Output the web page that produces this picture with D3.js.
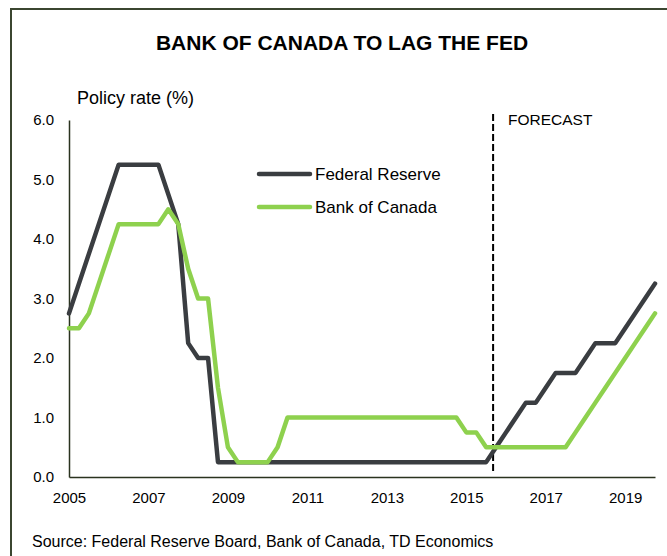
<!DOCTYPE html>
<html><head><meta charset="utf-8">
<script src="https://cdn.jsdelivr.net/npm/d3@7/dist/d3.min.js"></script>
<style>body{margin:0;background:#fff}svg{display:block;font-family:"Liberation Sans",Arial,sans-serif}</style>
</head><body><svg id="c" width="667" height="556"></svg>
<script>
// Quarterly data, 2005Q1 .. 2019Q4
const quarters = d3.range(60).map(i => (2005 + Math.floor(i/4)) + "Q" + (i%4+1));
const fedReserve = [2.75,3.25,3.75,4.25, 4.75,5.25,5.25,5.25, 5.25,5.25,4.75,4.25,
  2.25,2.0,2.0,0.25, 0.25,0.25,0.25,0.25, 0.25,0.25,0.25,0.25, 0.25,0.25,0.25,0.25,
  0.25,0.25,0.25,0.25, 0.25,0.25,0.25,0.25, 0.25,0.25,0.25,0.25, 0.25,0.25,0.25,0.5,
  0.75,1.0,1.25,1.25, 1.5,1.75,1.75,1.75, 2.0,2.25,2.25,2.25, 2.5,2.75,3.0,3.25];
const bankOfCanada = [2.5,2.5,2.75,3.25, 3.75,4.25,4.25,4.25, 4.25,4.25,4.5,4.25,
  3.5,3.0,3.0,1.5, 0.5,0.25,0.25,0.25, 0.25,0.5,1.0,1.0, 1.0,1.0,1.0,1.0,
  1.0,1.0,1.0,1.0, 1.0,1.0,1.0,1.0, 1.0,1.0,1.0,1.0, 0.75,0.75,0.5,0.5,
  0.5,0.5,0.5,0.5, 0.5,0.5,0.5,0.75, 1.0,1.25,1.5,1.75, 2.0,2.25,2.5,2.75];
const yTicks = [0,1,2,3,4,5,6];
const xTickIdx = [0,8,16,24,32,40,48,56];
const xTickLabels = ["2005","2007","2009","2011","2013","2015","2017","2019"];
const forecastAt = 42.7;
const seriesNames = ["Federal Reserve","Bank of Canada"];
const seriesColors = ["#3a3d41","#8ed14e"];

const svg = d3.select("#c");
// frame
svg.append("path").attr("d","M11,560 L11,9 L670,9").attr("fill","none")
  .attr("stroke","#3b4630").attr("stroke-width",2);

svg.append("text").attr("x",342).attr("y",50).attr("text-anchor","middle")
  .attr("font-size",21).attr("font-weight","bold").attr("fill","#000")
  .text("BANK OF CANADA TO LAG THE FED");

const x = d3.scaleLinear().domain([0,59]).range([69,655]);
const y = d3.scaleLinear().domain([0,6]).range([477,120]);

svg.append("text").attr("x",77).attr("y",104).attr("font-size",18).attr("fill","#000").text("Policy rate (%)");

// y axis
const ya = svg.append("g").attr("transform","translate(69,0)")
  .call(d3.axisLeft(y).tickValues(yTicks).tickFormat(d3.format(".1f")).tickSize(0).tickPadding(15));
ya.select(".domain").attr("stroke","#2a331f").attr("stroke-width",1.5);
ya.selectAll("text").attr("font-size",15).attr("fill","#000").attr("font-family","Liberation Sans, Arial, sans-serif");

// x axis
const xa = svg.append("g").attr("transform","translate(0,477)")
  .call(d3.axisBottom(x).tickValues(xTickIdx).tickFormat((d,i)=>xTickLabels[i]).tickSize(0).tickPadding(15));
xa.select(".domain").attr("stroke","#2a331f").attr("stroke-width",1.5);
xa.selectAll("text").attr("font-size",15).attr("fill","#000").attr("font-family","Liberation Sans, Arial, sans-serif");

// forecast divider
svg.append("line").attr("x1",x(forecastAt)).attr("x2",x(forecastAt)).attr("y1",114).attr("y2",y(0)-4)
  .attr("stroke","#000").attr("stroke-width",2).attr("stroke-dasharray","7,3");
svg.append("text").attr("x",508).attr("y",125).attr("font-size",15.5).attr("fill","#000").text("FORECAST");

const line = d3.line().x((d,i)=>x(i)).y(d=>y(d));
[fedReserve, bankOfCanada].forEach((s,k)=>{
  svg.append("path").datum(s).attr("d",line).attr("fill","none")
    .attr("stroke",seriesColors[k]).attr("stroke-width",4.5)
    .attr("stroke-linejoin","round").attr("stroke-linecap","round");
});

// legend
seriesNames.forEach((n,k)=>{
  const yy = 174 + k*33;
  svg.append("line").attr("x1",259).attr("x2",310).attr("y1",yy).attr("y2",yy)
    .attr("stroke",seriesColors[k]).attr("stroke-width",4.5).attr("stroke-linecap","round");
  svg.append("text").attr("x",315).attr("y",yy+6).attr("font-size",17).attr("fill","#000").text(n);
});

svg.append("text").attr("x",32).attr("y",547).attr("font-size",16).attr("fill","#000")
  .text("Source: Federal Reserve Board, Bank of Canada, TD Economics");
</script></body></html>
